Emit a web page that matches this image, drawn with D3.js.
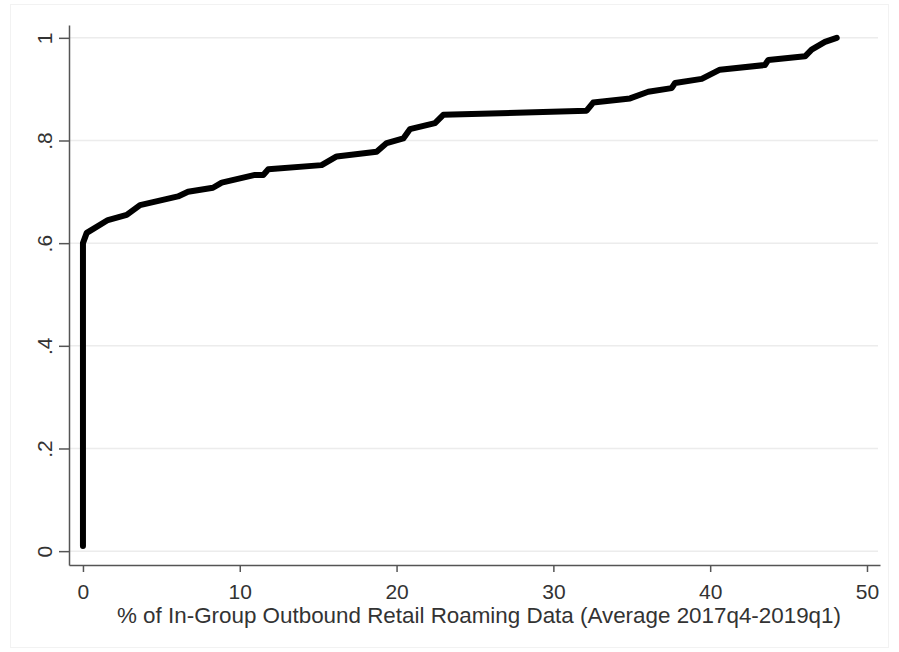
<!DOCTYPE html>
<html>
<head>
<meta charset="utf-8">
<script src="https://cdn.jsdelivr.net/npm/d3@7"></script>
<style>
  html, body { margin: 0; padding: 0; background: #fff; }
  svg { display: block; }
  text { font-family: "Liberation Sans", Arial, sans-serif; fill: #333; }
</style>
</head>
<body>
<svg id="chart" width="899" height="652"></svg>
<script>
// Share of in-group outbound retail roaming data (x, %) against cumulative share (y)
const shareInGroup = [0, 0, 0.24, 1.59, 2.79, 3.64, 6.06, 6.70, 8.29, 8.85, 10.97, 11.50, 11.82,
  15.22, 16.18, 18.73, 19.37, 20.43, 20.85, 22.45, 22.98, 32.12, 32.54, 34.89, 36.05, 37.54,
  37.76, 39.46, 40.62, 43.49, 43.71, 46.05, 46.47, 47.32, 48.07];
const cumShare = [0.01, 0.600, 0.620, 0.645, 0.655, 0.674, 0.691, 0.700, 0.708, 0.718, 0.733,
  0.733, 0.744, 0.752, 0.769, 0.778, 0.795, 0.804, 0.822, 0.834, 0.850, 0.858, 0.874, 0.882,
  0.895, 0.902, 0.912, 0.920, 0.938, 0.947, 0.957, 0.964, 0.977, 0.992, 1.0];

const xTicks = [0, 10, 20, 30, 40, 50];
const yTicks = [0, 0.2, 0.4, 0.6, 0.8, 1];
const yTickLabels = ["0", ".2", ".4", ".6", ".8", "1"];
const xTitle = "% of In-Group Outbound Retail Roaming Data (Average 2017q4-2019q1)";

const svg = d3.select("#chart");
const W = 899, H = 652;
const plot = { left: 69, right: 880, top: 25, bottom: 565 };

// faint outer graph-region outline
svg.append("rect")
  .attr("x", 10.5).attr("y", 4.5).attr("width", W - 21).attr("height", H - 9)
  .attr("fill", "none").attr("stroke", "#f2f2f2").attr("stroke-width", 1);

const x = d3.scaleLinear().domain([-0.89, 50.83]).range([plot.left, plot.right]);
const y = d3.scaleLinear().domain([-0.027, 1.025]).range([plot.bottom, plot.top]);

// horizontal grid
svg.append("g").selectAll("line").data(yTicks).join("line")
  .attr("x1", plot.left + 1).attr("x2", plot.right - 2)
  .attr("y1", d => y(d)).attr("y2", d => y(d))
  .attr("stroke", "#ececec").attr("stroke-width", 1.5);

// x axis
const gx = svg.append("g").attr("transform", `translate(0,${plot.bottom})`)
  .call(d3.axisBottom(x).tickValues(xTicks).tickSizeOuter(0).tickSizeInner(7).tickPadding(12)
    .tickFormat(d3.format("d")));
gx.select(".domain").attr("stroke", "#555").attr("stroke-width", 1.5);
gx.selectAll(".tick line").attr("stroke", "#555").attr("stroke-width", 1.5);
gx.selectAll(".tick text").attr("font-size", 21).attr("fill", "#333")
  .attr("font-family", "Liberation Sans, Arial, sans-serif");

// y axis with rotated labels
const gy = svg.append("g").attr("transform", `translate(${plot.left},0)`)
  .call(d3.axisLeft(y).tickValues(yTicks).tickSizeOuter(0).tickSizeInner(10)
    .tickFormat((d, i) => yTickLabels[i]));
gy.select(".domain").attr("stroke", "#555").attr("stroke-width", 1.5);
gy.selectAll(".tick line").attr("stroke", "#555").attr("stroke-width", 1.5);
gy.selectAll(".tick text")
  .attr("font-size", 21).attr("fill", "#333")
  .attr("font-family", "Liberation Sans, Arial, sans-serif")
  .attr("x", null).attr("dy", null)
  .attr("text-anchor", "middle")
  .attr("transform", "translate(-17,0) rotate(-90)");

// x title
svg.append("text")
  .attr("x", 479).attr("y", 623)
  .attr("text-anchor", "middle").attr("font-size", 22.4)
  .text(xTitle);

// cumulative curve
const pts = shareInGroup.map((v, i) => [v, cumShare[i]]);
svg.append("path")
  .datum(pts)
  .attr("fill", "none").attr("stroke", "#000").attr("stroke-width", 6)
  .attr("stroke-linejoin", "round").attr("stroke-linecap", "round")
  .attr("d", d3.line().x(d => x(d[0])).y(d => y(d[1])));
</script>
</body>
</html>
